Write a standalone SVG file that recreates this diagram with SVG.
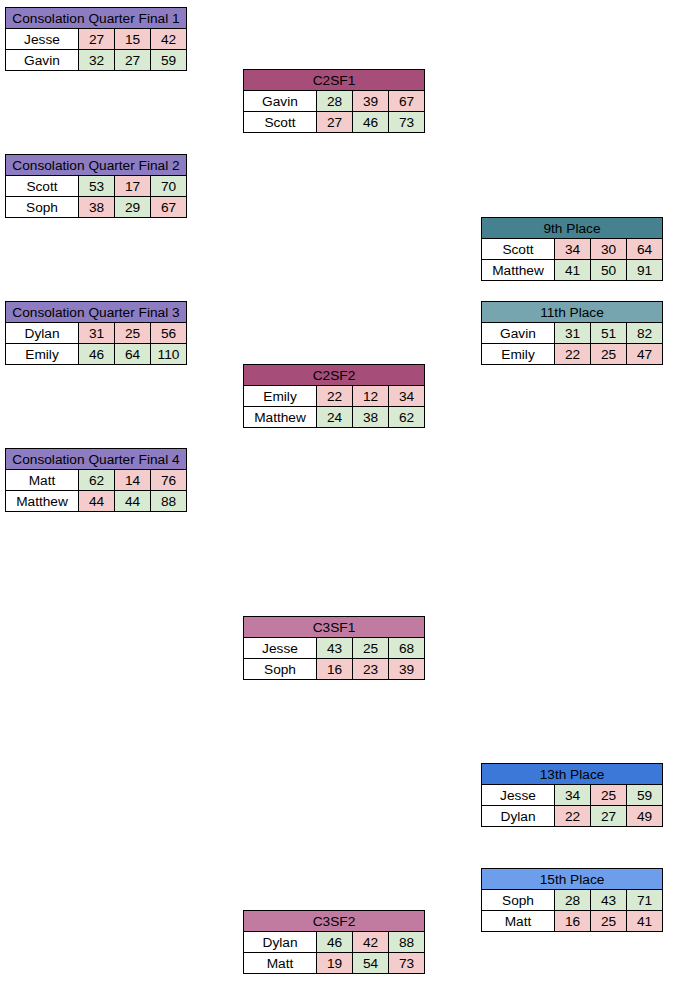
<svg xmlns="http://www.w3.org/2000/svg" width="697" height="987" viewBox="0 0 697 987">
<style>
text{font-family:"Liberation Sans",Arial,sans-serif;font-size:13.7px;fill:#000;text-anchor:middle}
.c{stroke:#000;stroke-width:1}
.w{fill:#fff}.r{fill:#f4cccc}.g{fill:#d9ead3}
.pq{fill:#8e7cc3}.p2{fill:#a64d79}.p3{fill:#c27ba0}.t9{fill:#45818e}.t11{fill:#76a5af}.b13{fill:#3c78d8}.b15{fill:#6d9eeb}
</style>
<rect width="697" height="987" fill="#fff"/>
<defs>
<g id="grid">
<rect class="c" x="0" y="0" width="181" height="63" fill="none"/>
<line class="c" x1="0" y1="21" x2="181" y2="21"/>
<line class="c" x1="0" y1="42" x2="181" y2="42"/>
<line class="c" x1="73" y1="21" x2="73" y2="63"/>
<line class="c" x1="109" y1="21" x2="109" y2="63"/>
<line class="c" x1="145" y1="21" x2="145" y2="63"/>
</g>
</defs>

<g id="cqf1" transform="translate(5.5,7.5)">
<rect class="pq" width="181" height="21"/><rect class="w" y="21" width="73" height="42"/>
<rect class="r" x="73" y="21" width="36" height="21"/><rect class="r" x="109" y="21" width="36" height="21"/><rect class="r" x="145" y="21" width="36" height="21"/>
<rect class="g" x="73" y="42" width="36" height="21"/><rect class="g" x="109" y="42" width="36" height="21"/><rect class="g" x="145" y="42" width="36" height="21"/>
<use href="#grid"/>
<text x="90.5" y="15.5">Consolation Quarter Final 1</text>
<text x="36.5" y="36.5">Jesse</text><text x="91" y="36.5">27</text><text x="127" y="36.5">15</text><text x="163" y="36.5">42</text>
<text x="36.5" y="57.5">Gavin</text><text x="91" y="57.5">32</text><text x="127" y="57.5">27</text><text x="163" y="57.5">59</text>
</g>

<g id="c2sf1" transform="translate(243.5,69.5)">
<rect class="p2" width="181" height="21"/><rect class="w" y="21" width="73" height="42"/>
<rect class="g" x="73" y="21" width="36" height="21"/><rect class="r" x="109" y="21" width="36" height="21"/><rect class="r" x="145" y="21" width="36" height="21"/>
<rect class="r" x="73" y="42" width="36" height="21"/><rect class="g" x="109" y="42" width="36" height="21"/><rect class="g" x="145" y="42" width="36" height="21"/>
<use href="#grid"/>
<text x="90.5" y="15.5">C2SF1</text>
<text x="36.5" y="36.5">Gavin</text><text x="91" y="36.5">28</text><text x="127" y="36.5">39</text><text x="163" y="36.5">67</text>
<text x="36.5" y="57.5">Scott</text><text x="91" y="57.5">27</text><text x="127" y="57.5">46</text><text x="163" y="57.5">73</text>
</g>

<g id="cqf2" transform="translate(5.5,154.5)">
<rect class="pq" width="181" height="21"/><rect class="w" y="21" width="73" height="42"/>
<rect class="g" x="73" y="21" width="36" height="21"/><rect class="r" x="109" y="21" width="36" height="21"/><rect class="g" x="145" y="21" width="36" height="21"/>
<rect class="r" x="73" y="42" width="36" height="21"/><rect class="g" x="109" y="42" width="36" height="21"/><rect class="r" x="145" y="42" width="36" height="21"/>
<use href="#grid"/>
<text x="90.5" y="15.5">Consolation Quarter Final 2</text>
<text x="36.5" y="36.5">Scott</text><text x="91" y="36.5">53</text><text x="127" y="36.5">17</text><text x="163" y="36.5">70</text>
<text x="36.5" y="57.5">Soph</text><text x="91" y="57.5">38</text><text x="127" y="57.5">29</text><text x="163" y="57.5">67</text>
</g>

<g id="place9" transform="translate(481.5,217.5)">
<rect class="t9" width="181" height="21"/><rect class="w" y="21" width="73" height="42"/>
<rect class="r" x="73" y="21" width="36" height="21"/><rect class="r" x="109" y="21" width="36" height="21"/><rect class="r" x="145" y="21" width="36" height="21"/>
<rect class="g" x="73" y="42" width="36" height="21"/><rect class="g" x="109" y="42" width="36" height="21"/><rect class="g" x="145" y="42" width="36" height="21"/>
<use href="#grid"/>
<text x="90.5" y="15.5">9th Place</text>
<text x="36.5" y="36.5">Scott</text><text x="91" y="36.5">34</text><text x="127" y="36.5">30</text><text x="163" y="36.5">64</text>
<text x="36.5" y="57.5">Matthew</text><text x="91" y="57.5">41</text><text x="127" y="57.5">50</text><text x="163" y="57.5">91</text>
</g>

<g id="cqf3" transform="translate(5.5,301.5)">
<rect class="pq" width="181" height="21"/><rect class="w" y="21" width="73" height="42"/>
<rect class="r" x="73" y="21" width="36" height="21"/><rect class="r" x="109" y="21" width="36" height="21"/><rect class="r" x="145" y="21" width="36" height="21"/>
<rect class="g" x="73" y="42" width="36" height="21"/><rect class="g" x="109" y="42" width="36" height="21"/><rect class="g" x="145" y="42" width="36" height="21"/>
<use href="#grid"/>
<text x="90.5" y="15.5">Consolation Quarter Final 3</text>
<text x="36.5" y="36.5">Dylan</text><text x="91" y="36.5">31</text><text x="127" y="36.5">25</text><text x="163" y="36.5">56</text>
<text x="36.5" y="57.5">Emily</text><text x="91" y="57.5">46</text><text x="127" y="57.5">64</text><text x="163" y="57.5">110</text>
</g>

<g id="place11" transform="translate(481.5,301.5)">
<rect class="t11" width="181" height="21"/><rect class="w" y="21" width="73" height="42"/>
<rect class="g" x="73" y="21" width="36" height="21"/><rect class="g" x="109" y="21" width="36" height="21"/><rect class="g" x="145" y="21" width="36" height="21"/>
<rect class="r" x="73" y="42" width="36" height="21"/><rect class="r" x="109" y="42" width="36" height="21"/><rect class="r" x="145" y="42" width="36" height="21"/>
<use href="#grid"/>
<text x="90.5" y="15.5">11th Place</text>
<text x="36.5" y="36.5">Gavin</text><text x="91" y="36.5">31</text><text x="127" y="36.5">51</text><text x="163" y="36.5">82</text>
<text x="36.5" y="57.5">Emily</text><text x="91" y="57.5">22</text><text x="127" y="57.5">25</text><text x="163" y="57.5">47</text>
</g>

<g id="c2sf2" transform="translate(243.5,364.5)">
<rect class="p2" width="181" height="21"/><rect class="w" y="21" width="73" height="42"/>
<rect class="r" x="73" y="21" width="36" height="21"/><rect class="r" x="109" y="21" width="36" height="21"/><rect class="r" x="145" y="21" width="36" height="21"/>
<rect class="g" x="73" y="42" width="36" height="21"/><rect class="g" x="109" y="42" width="36" height="21"/><rect class="g" x="145" y="42" width="36" height="21"/>
<use href="#grid"/>
<text x="90.5" y="15.5">C2SF2</text>
<text x="36.5" y="36.5">Emily</text><text x="91" y="36.5">22</text><text x="127" y="36.5">12</text><text x="163" y="36.5">34</text>
<text x="36.5" y="57.5">Matthew</text><text x="91" y="57.5">24</text><text x="127" y="57.5">38</text><text x="163" y="57.5">62</text>
</g>

<g id="cqf4" transform="translate(5.5,448.5)">
<rect class="pq" width="181" height="21"/><rect class="w" y="21" width="73" height="42"/>
<rect class="g" x="73" y="21" width="36" height="21"/><rect class="r" x="109" y="21" width="36" height="21"/><rect class="r" x="145" y="21" width="36" height="21"/>
<rect class="r" x="73" y="42" width="36" height="21"/><rect class="g" x="109" y="42" width="36" height="21"/><rect class="g" x="145" y="42" width="36" height="21"/>
<use href="#grid"/>
<text x="90.5" y="15.5">Consolation Quarter Final 4</text>
<text x="36.5" y="36.5">Matt</text><text x="91" y="36.5">62</text><text x="127" y="36.5">14</text><text x="163" y="36.5">76</text>
<text x="36.5" y="57.5">Matthew</text><text x="91" y="57.5">44</text><text x="127" y="57.5">44</text><text x="163" y="57.5">88</text>
</g>

<g id="c3sf1" transform="translate(243.5,616.5)">
<rect class="p3" width="181" height="21"/><rect class="w" y="21" width="73" height="42"/>
<rect class="g" x="73" y="21" width="36" height="21"/><rect class="g" x="109" y="21" width="36" height="21"/><rect class="g" x="145" y="21" width="36" height="21"/>
<rect class="r" x="73" y="42" width="36" height="21"/><rect class="r" x="109" y="42" width="36" height="21"/><rect class="r" x="145" y="42" width="36" height="21"/>
<use href="#grid"/>
<text x="90.5" y="15.5">C3SF1</text>
<text x="36.5" y="36.5">Jesse</text><text x="91" y="36.5">43</text><text x="127" y="36.5">25</text><text x="163" y="36.5">68</text>
<text x="36.5" y="57.5">Soph</text><text x="91" y="57.5">16</text><text x="127" y="57.5">23</text><text x="163" y="57.5">39</text>
</g>

<g id="place13" transform="translate(481.5,763.5)">
<rect class="b13" width="181" height="21"/><rect class="w" y="21" width="73" height="42"/>
<rect class="g" x="73" y="21" width="36" height="21"/><rect class="r" x="109" y="21" width="36" height="21"/><rect class="g" x="145" y="21" width="36" height="21"/>
<rect class="r" x="73" y="42" width="36" height="21"/><rect class="g" x="109" y="42" width="36" height="21"/><rect class="r" x="145" y="42" width="36" height="21"/>
<use href="#grid"/>
<text x="90.5" y="15.5">13th Place</text>
<text x="36.5" y="36.5">Jesse</text><text x="91" y="36.5">34</text><text x="127" y="36.5">25</text><text x="163" y="36.5">59</text>
<text x="36.5" y="57.5">Dylan</text><text x="91" y="57.5">22</text><text x="127" y="57.5">27</text><text x="163" y="57.5">49</text>
</g>

<g id="place15" transform="translate(481.5,868.5)">
<rect class="b15" width="181" height="21"/><rect class="w" y="21" width="73" height="42"/>
<rect class="g" x="73" y="21" width="36" height="21"/><rect class="g" x="109" y="21" width="36" height="21"/><rect class="g" x="145" y="21" width="36" height="21"/>
<rect class="r" x="73" y="42" width="36" height="21"/><rect class="r" x="109" y="42" width="36" height="21"/><rect class="r" x="145" y="42" width="36" height="21"/>
<use href="#grid"/>
<text x="90.5" y="15.5">15th Place</text>
<text x="36.5" y="36.5">Soph</text><text x="91" y="36.5">28</text><text x="127" y="36.5">43</text><text x="163" y="36.5">71</text>
<text x="36.5" y="57.5">Matt</text><text x="91" y="57.5">16</text><text x="127" y="57.5">25</text><text x="163" y="57.5">41</text>
</g>

<g id="c3sf2" transform="translate(243.5,910.5)">
<rect class="p3" width="181" height="21"/><rect class="w" y="21" width="73" height="42"/>
<rect class="g" x="73" y="21" width="36" height="21"/><rect class="r" x="109" y="21" width="36" height="21"/><rect class="g" x="145" y="21" width="36" height="21"/>
<rect class="r" x="73" y="42" width="36" height="21"/><rect class="g" x="109" y="42" width="36" height="21"/><rect class="r" x="145" y="42" width="36" height="21"/>
<use href="#grid"/>
<text x="90.5" y="15.5">C3SF2</text>
<text x="36.5" y="36.5">Dylan</text><text x="91" y="36.5">46</text><text x="127" y="36.5">42</text><text x="163" y="36.5">88</text>
<text x="36.5" y="57.5">Matt</text><text x="91" y="57.5">19</text><text x="127" y="57.5">54</text><text x="163" y="57.5">73</text>
</g>

<g id="connectors"></g>
</svg>
